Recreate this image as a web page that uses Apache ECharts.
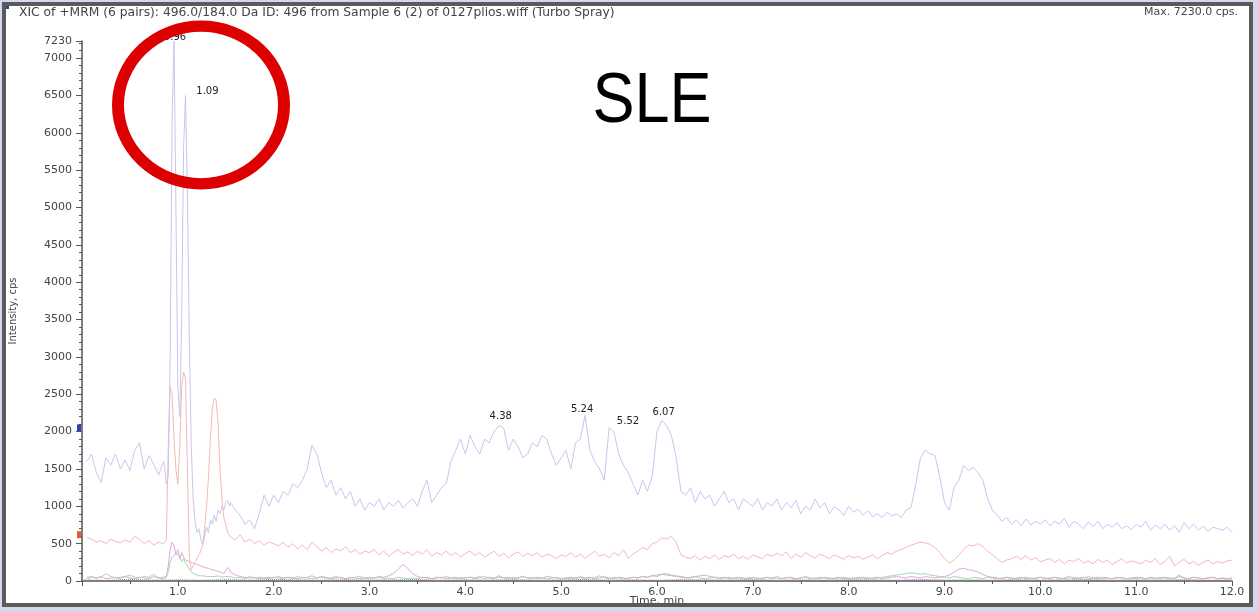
<!DOCTYPE html>
<html><head><meta charset="utf-8">
<script src="https://cdn.jsdelivr.net/npm/echarts@6/dist/echarts.min.js"></script>
<style>html,body{margin:0;padding:0;background:#fff}#c{width:1258px;height:612px}</style>
</head><body><div id="c"></div>
<script>
// ---- sampling grids (min) ----
const preStart = 0.05, preStep = 0.05;   // 0.05 .. 0.85  (17 pts)
const peakStart = 0.86, peakStep = 0.02; // 0.86 .. 1.54  (35 pts)
const postStart = 1.55, postStep = 0.05; // 1.55 .. 12.00 (210 pts)

// ---- blue trace (cps) ----
const bluePre = [1600,1700,1450,1320,1650,1550,1700,1500,1620,1480,1750,1850,1500,1680,1560,1420,1600];
const bluePeak = [1550,1300,1400,3000,6200,7230,5000,2600,2200,3500,5800,6500,5200,3200,1800,1100,800,650,700,560,480,600,720,650,820,760,880,800,950,900,1000,950,1050,1080,1000];
const bluePost = [
 1050,950,880,760,820,700,900,1150,1000,1150,
 1050,1200,1150,1300,1250,1350,1500,1820,1700,1450,1250,1350,1150,1250,1100,1200,1000,1100,950,1050,
 1000,1100,950,1050,1000,1080,980,1050,1100,1000,1200,1350,1050,1150,1250,1300,1600,1750,1900,1700,
 1950,1800,1700,1900,1850,2000,2080,2050,1750,1900,1800,1650,1700,1850,1800,1950,1900,1700,1550,1650,
 1750,1500,1850,1900,2220,1750,1600,1500,1350,2050,2000,1700,1550,1450,1300,1150,1350,1200,1400,2000,
 2150,2080,1950,1650,1200,1150,1250,1050,1200,1100,1150,1000,1100,1200,1050,1100,950,1100,1050,1000,
 1100,950,1050,1000,1100,950,1050,980,1080,900,1000,950,1100,980,1050,900,1000,950,880,1000,
 920,960,880,940,860,900,850,920,870,900,850,950,980,1300,1650,1750,1700,1680,1400,1050,
 950,1250,1350,1550,1480,1520,1450,1350,1100,950,880,800,850,760,820,740,830,750,800,760,
 820,740,800,760,840,720,800,760,700,790,730,800,700,760,720,780,700,740,690,760,
 720,800,680,750,700,760,680,740,650,780,700,760,680,740,660,720,700,680,720,650];

// ---- red trace ----
const redPre = [580,560,520,540,500,560,530,510,550,520,600,560,500,540,480,520,500];
const redPeak = [480,550,1800,2600,2500,1900,1500,1300,1800,2600,2800,2700,1500,300,150,200,250,300,350,400,500,700,1000,1400,1900,2300,2450,2420,2100,1500,1100,850,750,650,600];
const redPost = [
 600,550,620,520,560,500,540,480,520,500,
 470,520,450,500,430,480,420,520,460,400,450,380,430,400,460,380,420,360,400,380,
 420,350,400,330,380,420,360,390,340,400,360,420,330,380,350,400,340,380,320,370,
 400,340,380,320,360,400,330,370,310,360,390,330,370,340,380,320,360,340,300,350,
 330,380,320,360,300,350,400,330,360,310,380,340,420,300,360,400,450,420,500,520,
 580,560,600,520,350,320,300,340,280,330,300,350,290,340,320,360,300,330,290,350,
 320,300,360,330,370,340,390,300,360,320,380,340,310,360,330,300,350,320,290,340,
 310,330,290,320,350,300,340,380,360,400,420,450,480,500,520,510,490,450,380,300,
 240,280,350,420,480,470,500,460,400,350,300,250,280,300,330,290,340,280,310,260,
 280,300,250,290,230,280,260,300,240,270,230,290,250,280,220,260,300,240,270,250,
 230,280,250,300,220,260,330,200,250,290,230,260,210,250,280,230,260,240,270,280];

// ---- magenta trace ----
const magPre = [30,50,40,60,30,40,50,30,60,40,30,50,40,30,60,40,30];
const magPeak = [40,50,200,420,520,480,350,420,300,380,320,280,300,260,280,240,260,220,240,200,220,180,200,170,180,150,160,140,130,120,110,100,120,180,150];
const magPost = [
 120,80,60,50,40,50,30,40,50,40,
 60,40,50,30,60,40,50,70,40,60,50,30,40,50,30,40,50,60,40,50,
 40,60,50,70,100,160,220,170,100,60,40,50,30,50,40,60,40,50,30,40,
 50,40,60,30,50,40,70,40,50,30,40,60,40,50,30,40,60,50,40,30,
 40,50,30,60,40,50,30,40,60,40,30,50,40,30,50,40,60,50,70,60,
 90,80,70,60,50,40,50,60,70,80,60,50,40,50,30,40,50,40,30,40,
 40,30,50,40,60,30,40,50,30,40,60,40,30,50,40,30,40,50,30,40,
 30,50,40,30,40,50,30,40,50,60,50,40,60,50,40,60,50,40,50,60,
 80,120,160,170,150,140,120,90,60,50,40,30,50,40,30,40,50,30,40,50,
 30,40,50,30,40,60,30,40,50,30,40,50,30,40,30,50,40,30,40,50,
 40,30,50,40,30,50,40,30,60,40,30,50,40,30,40,50,30,40,30,40];

// ---- green trace ----
const grnPre = [50,60,40,50,100,60,40,50,60,80,50,40,60,50,90,40,50];
const grnPeak = [50,60,120,250,320,300,370,380,320,260,300,240,200,160,120,100,90,80,70,90,70,80,60,70,60,80,60,50,70,60,50,70,60,50,60];
const grnPost = [
 60,40,50,30,60,40,50,40,30,50,
 40,30,50,40,30,50,40,30,40,50,30,40,60,40,30,50,40,30,40,30,
 40,50,30,40,30,50,40,30,40,30,50,40,30,40,50,30,40,30,50,40,
 50,30,40,60,40,30,50,40,30,50,40,60,40,30,50,40,30,40,50,30,
 40,30,50,40,30,40,50,70,40,30,50,40,30,40,50,40,60,50,70,80,
 90,100,80,70,60,50,40,60,40,30,40,50,30,40,50,30,40,30,40,50,
 30,40,50,30,40,30,50,40,30,40,50,30,40,30,50,40,30,40,50,30,
 40,30,50,40,30,40,50,60,70,80,90,100,110,100,90,100,80,70,60,50,
 40,60,50,40,30,50,40,30,50,40,30,40,50,30,40,50,30,40,30,50,
 40,30,50,40,30,40,50,30,40,60,40,30,50,40,30,40,50,30,40,30,
 50,30,40,30,50,40,30,40,80,40,30,50,40,30,40,50,30,40,30,40];

// ---- gray trace (0.25 min steps from 0) ----
const grayStart = 0, grayStep = 0.25;
const grayVals = [15,10,20,12,15,10,18,12,20,15,10,18,12,15,20,10,15,12,18,10,15,20,12,15,10,18,15,12,20,10,15,12,18,15,10,20,12,15,10,18,12,15,20,10,15,12,18,10,15];

// ---- peak labels ----
const peakTimes = [0.96, 1.09, 4.38, 5.24, 5.52, 6.07];
const peakHeights = [7230, 6500, 2080, 2220, 2050, 2150];
const peakLabelOffsets = [[1, 2], [21, 1], [-1, -4], [-2, 0], [17, -1], [0, -3]];

// ---- start markers ----
const blueStart = 2050, redStart = 620;

// ---- axes ----
const yMax = 7230, yInterval = 500, xMax = 12;
const titleText = 'XIC of +MRM (6 pairs): 496.0/184.0 Da ID: 496 from Sample 6 (2) of 0127plios.wiff (Turbo Spray)';
const maxText = 'Max. 7230.0 cps.';
const sampleText = 'SLE';

function grid(start, step, n) { const a = []; for (let i = 0; i < n; i++) a.push(+(start + i * step).toFixed(3)); return a; }
function build(pre, peak, post) {
  const out = [];
  grid(preStart, preStep, pre.length).forEach((t, i) => out.push([t, pre[i]]));
  grid(peakStart, peakStep, peak.length).forEach((t, i) => out.push([t, peak[i]]));
  grid(postStart, postStep, post.length).forEach((t, i) => out.push([t, post[i]]));
  return out;
}
const F = 'DejaVu Sans';
const axisCol = '#555';
const chart = echarts.init(document.getElementById('c'), null, { renderer: 'canvas' });
const lineSeries = (name, data, color, z, extra) => Object.assign({
  name, type: 'line', data, showSymbol: false, symbol: 'none', z,
  lineStyle: { width: 1, color }, itemStyle: { color }, animation: false, silent: true
}, extra || {});

chart.setOption({
  backgroundColor: '#ffffff',
  animation: false,
  title: [
    { text: titleText, left: 14, top: 2, textStyle: { fontFamily: F, fontSize: 12.3, fontWeight: 'normal', color: '#444' } },
    { text: maxText, right: 15, top: 2, textStyle: { fontFamily: F, fontSize: 11, fontWeight: 'normal', color: '#444' } }
  ],
  grid: { left: 82, top: 41, right: 26, bottom: 31, containLabel: false, outerBoundsMode: 'none' },
  xAxis: {
    type: 'value', min: 0, max: xMax, interval: 1,
    name: 'Time, min', nameLocation: 'middle', nameGap: 15, nameMoveOverlap: false,
    nameTextStyle: { fontFamily: F, fontSize: 11, color: '#444' },
    axisLine: { show: true, lineStyle: { color: axisCol, width: 1.5 } },
    axisTick: { show: true, length: 5, lineStyle: { color: axisCol } },
    minorTick: { show: true, splitNumber: 2, length: 3, lineStyle: { color: axisCol } },
    splitLine: { show: false },
    axisLabel: { margin: 6, fontFamily: F, fontSize: 11, color: '#444', formatter: v => v === 0 ? '' : v.toFixed(1) }
  },
  yAxis: {
    type: 'value', min: 0, max: yMax, interval: yInterval,
    name: 'Intensity, cps', nameLocation: 'middle', nameGap: 64, nameRotate: 90, nameMoveOverlap: false,
    nameTextStyle: { fontFamily: F, fontSize: 10, color: '#444' },
    axisLine: { show: true, lineStyle: { color: axisCol, width: 1.5 } },
    axisTick: { show: true, length: 6, lineStyle: { color: axisCol } },
    minorTick: { show: true, splitNumber: 5, length: 3, lineStyle: { color: axisCol } },
    splitLine: { show: false },
    axisLabel: { margin: 10, fontFamily: F, fontSize: 11, color: '#444', showMaxLabel: true, formatter: v => String(Math.round(v)) }
  },
  series: [
    lineSeries('gray', grid(grayStart, grayStep, grayVals.length).map((t, i) => [t, grayVals[i]]), '#8a8a8a', 1, { lineStyle: { width: 1, color: '#8a8a8a', type: 'dotted' } }),
    lineSeries('green', build(grnPre, grnPeak, grnPost), '#acd6ac', 2),
    lineSeries('magenta', build(magPre, magPeak, magPost), '#dea8de', 3),
    lineSeries('red', build(redPre, redPeak, redPost), '#f5bab2', 4, {
      markPoint: { silent: true, animation: false, symbol: 'rect', symbolSize: [4, 7], symbolOffset: [-3, 0],
        itemStyle: { color: '#e06030' }, label: { show: false }, data: [{ coord: [0, redStart] }] }
    }),
    lineSeries('blue', build(bluePre, bluePeak, bluePost), '#c6c6ee', 5, {
      markPoint: {
        silent: true, animation: false,
        data: [
          { coord: [0, blueStart], symbol: 'rect', symbolSize: [4, 7], symbolOffset: [-3, 0], itemStyle: { color: '#3040b0' }, label: { show: false } }
        ].concat(peakTimes.map((t, i) => ({
          name: t.toFixed(2), coord: [t, peakHeights[i]], symbol: 'rect', symbolSize: 1,
          itemStyle: { color: 'rgba(0,0,0,0)' },
          label: { show: true, position: 'top', distance: 0, offset: peakLabelOffsets[i], formatter: p => p.name,
            fontFamily: F, fontSize: 10, color: '#222' }
        })))
      }
    })
  ],
  graphic: [
    { type: 'rect', shape: { x: 4, y: 4, width: 5, height: 5 }, style: { fill: '#2c3ea8' }, z: 100 },
    { type: 'text', x: 652, y: 103, scaleX: 0.9, z: 100,
      style: { text: sampleText, fontFamily: 'Liberation Sans', fontSize: 70, fill: '#000', textAlign: 'center', textVerticalAlign: 'middle' } },
    { type: 'circle', x: 201, y: 105, scaleY: 0.95, shape: { cx: 0, cy: 0, r: 83 }, z: 110,
      style: { fill: 'none', stroke: '#dc0000', lineWidth: 12 } },
    // frame
    { type: 'rect', shape: { x: 0, y: 0, width: 1258, height: 2 }, style: { fill: '#d6d6ee' }, z: 120 },
    { type: 'rect', shape: { x: 0, y: 607, width: 1258, height: 5 }, style: { fill: '#d6d6ee' }, z: 120 },
    { type: 'rect', shape: { x: 0, y: 0, width: 2, height: 612 }, style: { fill: '#d6d6ee' }, z: 120 },
    { type: 'rect', shape: { x: 1253, y: 0, width: 5, height: 612 }, style: { fill: '#d6d6ee' }, z: 120 },
    { type: 'rect', shape: { x: 4, y: 4, width: 1247, height: 601 }, style: { fill: 'none', stroke: '#5a5a5a', lineWidth: 4 }, z: 121 }
  ]
});
</script>
</body></html>
